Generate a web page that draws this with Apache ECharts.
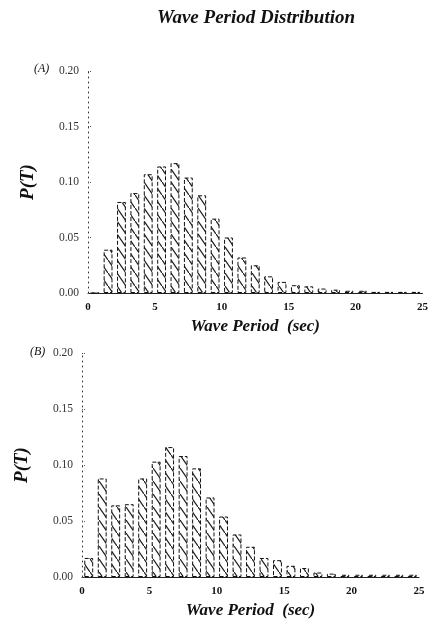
<!DOCTYPE html>
<html>
<head>
<meta charset="utf-8">
<script src="https://cdn.jsdelivr.net/npm/echarts@6/dist/echarts.min.js"></script>
<style>
  html, body { margin: 0; padding: 0; background: #fff; }
  #chart { width: 431px; height: 624px; }
</style>
</head>
<body>
<div id="chart"></div>
<script>
// Wave period bins (sec): bar centres of 1-second bins from 0 to 25
const periods = [0.5, 1.5, 2.5, 3.5, 4.5, 5.5, 6.5, 7.5, 8.5, 9.5, 10.5, 11.5, 12.5,
                 13.5, 14.5, 15.5, 16.5, 17.5, 18.5, 19.5, 20.5, 21.5, 22.5, 23.5, 24.5];

// P(T) for panel (A)
const probA = [0.000, 0.039, 0.082, 0.090, 0.107, 0.114, 0.117, 0.104, 0.088, 0.067,
               0.050, 0.032, 0.025, 0.015, 0.010, 0.007, 0.006, 0.004, 0.003, 0.002,
               0.002, 0.001, 0.001, 0.001, 0.001];

// P(T) for panel (B)
const probB = [0.017, 0.088, 0.064, 0.065, 0.088, 0.103, 0.116, 0.108, 0.097, 0.071,
               0.054, 0.038, 0.027, 0.017, 0.015, 0.010, 0.008, 0.004, 0.003, 0.002,
               0.002, 0.002, 0.002, 0.002, 0.002];

const xTicks = [0, 5, 10, 15, 20, 25];
const yTicks = [0.00, 0.05, 0.10, 0.15, 0.20];

const serif = "'Liberation Serif', 'DejaVu Serif', serif";

// diagonal hatch tile for the bar fill
function hatchTile() {
  const c = document.createElement('canvas');
  c.width = 9; c.height = 13;
  const g = c.getContext('2d');
  g.fillStyle = '#fff';
  g.fillRect(0, 0, 9, 13);
  g.strokeStyle = '#1a1a1a';
  g.lineWidth = 1.2;
  g.beginPath();
  g.moveTo(0, 0); g.lineTo(9, 13);
  g.stroke();
  return c;
}
const hatch = { image: hatchTile(), repeat: 'repeat' };

function xAxisFor(gridIndex) {
  return {
    type: 'value', gridIndex: gridIndex,
    min: xTicks[0], max: xTicks[xTicks.length - 1], interval: 5,
    name: 'Wave Period  (sec)', nameLocation: 'middle', nameGap: 25,
    nameTextStyle: { fontFamily: serif, fontSize: 17, fontWeight: 'bold', fontStyle: 'italic', color: '#111' },
    axisLine: { show: true, lineStyle: { color: '#222', width: 1 } },
    axisTick: { show: false },
    splitLine: { show: false },
    axisLabel: { fontFamily: serif, fontSize: 11, fontWeight: 'bold', color: '#111', margin: 9 }
  };
}

function yAxisFor(gridIndex) {
  return {
    type: 'value', gridIndex: gridIndex,
    min: yTicks[0], max: yTicks[yTicks.length - 1], interval: 0.05,
    name: 'P(T)', nameLocation: 'middle', nameGap: 50, nameRotate: 90,
    nameTextStyle: { fontFamily: serif, fontSize: 19, fontWeight: 'bold', fontStyle: 'italic', color: '#111' },
    axisLine: { show: true, lineStyle: { color: '#333', width: 1, type: [1, 4] } },
    axisTick: { show: true, inside: true, length: 4, lineStyle: { color: '#555', type: [1, 1] } },
    splitLine: { show: false },
    axisLabel: { fontFamily: serif, fontSize: 11.5, color: '#333', margin: 9,
                 formatter: v => v.toFixed(2) }
  };
}

function barSeries(idx, values) {
  return {
    type: 'bar', xAxisIndex: idx, yAxisIndex: idx,
    data: periods.map((p, i) => [p, values[i]]),
    barWidth: '66%',
    itemStyle: { color: hatch, borderColor: '#111', borderWidth: 1, borderType: [4, 2] },
    emphasis: { disabled: true },
    animation: false
  };
}

const chart = echarts.init(document.getElementById('chart'), null, { renderer: 'canvas' });
chart.setOption({
  backgroundColor: '#fff',
  animation: false,
  title: {
    text: 'Wave Period Distribution',
    left: 251, top: 4, textAlign: 'center',
    textStyle: { fontFamily: serif, fontSize: 19, fontWeight: 'bold', fontStyle: 'italic', color: '#111' }
  },
  graphic: [
    { type: 'text', left: 34, top: 63,
      style: { text: '(A)', font: 'italic 12px ' + serif, fill: '#111' } },
    { type: 'text', left: 30, top: 346,
      style: { text: '(B)', font: 'italic 12px ' + serif, fill: '#111' } }
  ],
  grid: [
    { left: 88, top: 71, width: 337, height: 222 },
    { left: 82, top: 353, width: 337, height: 224 }
  ],
  xAxis: [xAxisFor(0), xAxisFor(1)],
  yAxis: [yAxisFor(0), yAxisFor(1)],
  series: [barSeries(0, probA), barSeries(1, probB)]
});
</script>
</body>
</html>
